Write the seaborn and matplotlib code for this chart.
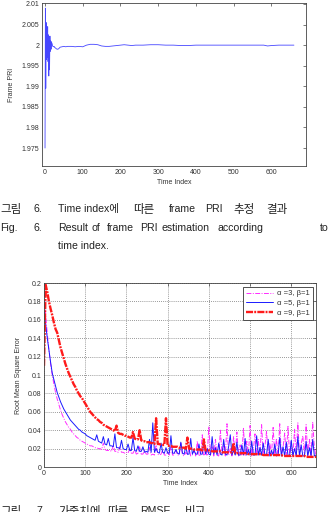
import numpy as np
import pandas as pd
import matplotlib
matplotlib.use("Agg")
import matplotlib.pyplot as plt
import seaborn as sns

sns.set_style("white")
plt.rcParams["font.family"] = ["Liberation Sans", "DejaVu Sans"]

# ---------------- data: chart 1 (frame PRI estimate) ----------------
pri_t = [0, 1, 2, 3, 4, 5, 6, 7, 8, 9, 10, 11, 12, 13, 14, 15, 16, 17, 18, 19, 20,
         22, 24, 26, 28, 30, 33, 36, 40, 45, 50, 55, 60, 70, 80, 90, 100, 110, 120,
         130, 140, 150, 160, 170, 180, 190, 200, 210, 220, 230, 240, 260, 280, 300,
         320, 340, 360, 380, 400, 420, 440, 460, 480, 500, 520, 540, 560, 580, 590,
         600, 620, 640, 660]
pri_val = [1.9750, 2.0090, 1.9895, 2.0055, 1.9965, 2.0030, 1.9970, 2.0045, 1.9960,
           2.0025, 1.9925, 2.0020, 1.9940, 2.0022, 1.9985, 2.0010, 1.9990, 2.0008,
           2.0005, 2.0003, 1.9998, 1.9996, 1.9997, 1.9994, 1.9993, 1.9991, 1.9990,
           1.9991, 1.9995, 1.9996, 1.9997, 1.9996, 1.9997, 1.9997, 1.9996, 1.9997,
           1.9996, 2.0000, 2.0002, 2.0002, 2.0001, 1.9998, 1.9997, 1.9997, 1.9998,
           1.9999, 2.0000, 2.0001, 2.0000, 1.9999, 2.0000, 2.0000, 2.0001, 2.0001,
           2.0000, 2.0000, 1.9999, 1.9999, 2.0000, 2.0000, 2.0000, 2.0000, 2.0000,
           2.0000, 2.0000, 2.0000, 2.0000, 2.0000, 1.9998, 1.9999, 2.0000, 2.0000,
           2.0000]
pri_yticks = [1.975, 1.98, 1.985, 1.99, 1.995, 2.0, 2.005, 2.01]
pri_yticklabels = ["1.975", "1.98", "1.985", "1.99", "1.995", "2", "2.005", "2.01"]
xticks = [0, 100, 200, 300, 400, 500, 600]

# ---------------- data: chart 2 (RMSE) ----------------
rmse_t = list(range(0, 661, 4))
rmse_a3 = [0.190, 0.165, 0.145, 0.127, 0.112, 0.100, 0.090, 0.081, 0.074, 0.068,
           0.062, 0.057, 0.053, 0.049, 0.046, 0.043, 0.041, 0.038, 0.036, 0.034,
           0.032, 0.031, 0.029, 0.028, 0.027, 0.026, 0.025, 0.024, 0.023, 0.023,
           0.022, 0.021, 0.021, 0.020, 0.020, 0.019, 0.026, 0.019, 0.018, 0.018,
           0.018, 0.017, 0.024, 0.017, 0.017, 0.016, 0.022, 0.016, 0.016, 0.015,
           0.016, 0.015, 0.020, 0.015, 0.015, 0.019, 0.014, 0.015, 0.022, 0.014,
           0.014, 0.018, 0.014, 0.014, 0.021, 0.013, 0.014, 0.013, 0.024, 0.014,
           0.013, 0.014, 0.019, 0.013, 0.013, 0.017, 0.013, 0.022, 0.013, 0.013,
           0.018, 0.013, 0.013, 0.026, 0.013, 0.012, 0.016, 0.013, 0.021, 0.012,
           0.013, 0.019, 0.012, 0.028, 0.013, 0.012, 0.035, 0.013, 0.018, 0.012,
           0.044, 0.013, 0.022, 0.012, 0.030, 0.013, 0.012, 0.040, 0.014, 0.025,
           0.012, 0.047, 0.013, 0.020, 0.012, 0.033, 0.013, 0.038, 0.012, 0.024,
           0.013, 0.042, 0.012, 0.028, 0.013, 0.045, 0.012, 0.019, 0.036, 0.012,
           0.030, 0.013, 0.046, 0.012, 0.022, 0.039, 0.012, 0.026, 0.013, 0.043,
           0.012, 0.031, 0.012, 0.047, 0.013, 0.021, 0.037, 0.012, 0.044, 0.013,
           0.028, 0.012, 0.041, 0.013, 0.048, 0.012, 0.025, 0.034, 0.012, 0.046,
           0.013, 0.030, 0.012, 0.049, 0.021, 0.012]
rmse_a5 = [0.170, 0.155, 0.140, 0.127, 0.114, 0.102, 0.095, 0.088, 0.081, 0.076,
           0.071, 0.067, 0.063, 0.060, 0.057, 0.054, 0.051, 0.049, 0.047, 0.045,
           0.043, 0.041, 0.040, 0.038, 0.037, 0.036, 0.034, 0.033, 0.032, 0.031,
           0.030, 0.029, 0.035, 0.028, 0.027, 0.026, 0.033, 0.025, 0.024, 0.031,
           0.023, 0.023, 0.022, 0.036, 0.021, 0.021, 0.020, 0.029, 0.020, 0.019,
           0.019, 0.025, 0.018, 0.018, 0.032, 0.018, 0.017, 0.023, 0.017, 0.017,
           0.022, 0.016, 0.017, 0.016, 0.030, 0.016, 0.048, 0.016, 0.020, 0.016,
           0.015, 0.026, 0.016, 0.015, 0.021, 0.015, 0.015, 0.034, 0.015, 0.015,
           0.019, 0.015, 0.014, 0.027, 0.015, 0.014, 0.022, 0.014, 0.014, 0.031,
           0.014, 0.018, 0.014, 0.014, 0.025, 0.014, 0.014, 0.029, 0.014, 0.020,
           0.014, 0.013, 0.033, 0.014, 0.021, 0.013, 0.026, 0.014, 0.013, 0.030,
           0.014, 0.013, 0.022, 0.035, 0.013, 0.018, 0.013, 0.027, 0.013, 0.013,
           0.024, 0.013, 0.031, 0.013, 0.019, 0.013, 0.028, 0.013, 0.013, 0.034,
           0.013, 0.021, 0.013, 0.026, 0.013, 0.013, 0.030, 0.012, 0.018, 0.013,
           0.025, 0.012, 0.013, 0.032, 0.012, 0.022, 0.012, 0.027, 0.013, 0.012,
           0.029, 0.012, 0.020, 0.012, 0.033, 0.012, 0.024, 0.012, 0.012, 0.028,
           0.012, 0.021, 0.012, 0.030, 0.012, 0.013]
rmse_a9 = [0.110, 0.198, 0.190, 0.180, 0.172, 0.165, 0.157, 0.150, 0.146, 0.138,
           0.130, 0.124, 0.118, 0.112, 0.107, 0.102, 0.098, 0.094, 0.090, 0.087,
           0.083, 0.080, 0.077, 0.075, 0.072, 0.069, 0.066, 0.063, 0.060, 0.058,
           0.056, 0.054, 0.052, 0.051, 0.049, 0.048, 0.046, 0.045, 0.044, 0.043,
           0.042, 0.041, 0.040, 0.039, 0.045, 0.037, 0.036, 0.036, 0.035, 0.034,
           0.034, 0.033, 0.032, 0.032, 0.038, 0.031, 0.030, 0.030, 0.040, 0.029,
           0.028, 0.028, 0.027, 0.027, 0.027, 0.026, 0.026, 0.025, 0.053, 0.025,
           0.025, 0.024, 0.024, 0.024, 0.053, 0.023, 0.023, 0.023, 0.022, 0.022,
           0.022, 0.022, 0.021, 0.021, 0.021, 0.021, 0.020, 0.032, 0.020, 0.020,
           0.020, 0.019, 0.019, 0.019, 0.019, 0.019, 0.018, 0.030, 0.018, 0.018,
           0.018, 0.018, 0.017, 0.017, 0.017, 0.017, 0.017, 0.017, 0.016, 0.016,
           0.016, 0.016, 0.016, 0.016, 0.016, 0.026, 0.015, 0.015, 0.015, 0.015,
           0.015, 0.015, 0.015, 0.015, 0.014, 0.014, 0.014, 0.014, 0.014, 0.014,
           0.014, 0.014, 0.014, 0.013, 0.013, 0.013, 0.013, 0.013, 0.013, 0.013,
           0.013, 0.013, 0.013, 0.013, 0.013, 0.012, 0.012, 0.012, 0.012, 0.012,
           0.012, 0.012, 0.012, 0.012, 0.012, 0.012, 0.012, 0.012, 0.012, 0.011,
           0.011, 0.011, 0.011, 0.011, 0.011, 0.011]
rmse_labels = ["\u03b1 =3, \u03b2=1", "\u03b1 =5, \u03b2=1", "\u03b1 =9, \u03b2=1"]
rmse_yticks = [0, 0.02, 0.04, 0.06, 0.08, 0.1, 0.12, 0.14, 0.16, 0.18, 0.2]
rmse_yticklabels = ["0", "0.02", "0.04", "0.06", "0.08", "0.1", "0.12", "0.14",
                    "0.16", "0.18", "0.2"]

# ---------------- figure ----------------
W, H = 332, 512
fig = plt.figure(figsize=(W / 100, H / 100), dpi=100)


def px_axes(l, t, r, b):
    return fig.add_axes([l / W, 1 - b / H, (r - l) / W, (b - t) / H])


def style_axes(ax):
    for s in ax.spines.values():
        s.set_color("#444444")
        s.set_linewidth(0.6)
    ax.tick_params(direction="in", top=True, right=True, length=2.5, width=0.5,
                   labelsize=5, colors="#444444", labelcolor="#333333", pad=2)


# chart 1
ax1 = px_axes(42, 3, 306, 166)
sns.lineplot(x=pri_t, y=pri_val, ax=ax1, color="#4646ff", linewidth=0.6,
             estimator=None, sort=False)
ax1.set_xlim(-8, 692)
ax1.set_ylim(1.97063, 2.01024)
ax1.set_xticks(xticks)
ax1.set_xticklabels([str(v) for v in xticks])
ax1.set_yticks(pri_yticks)
ax1.set_yticklabels(pri_yticklabels)
style_axes(ax1)
ax1.set_xlabel("Time Index", fontsize=5, color="#333333", labelpad=2)
ax1.set_ylabel("Frame PRI", fontsize=5, color="#333333", labelpad=5)

# chart 2
ax2 = px_axes(44, 283, 316, 467)
df = pd.DataFrame({"t": rmse_t, "a3": rmse_a3, "a5": rmse_a5, "a9": rmse_a9})
sns.lineplot(data=df, x="t", y="a3", ax=ax2, color="#ff2bff", linewidth=0.7,
             linestyle=(0, (5, 1.5, 1, 1.5)), label=rmse_labels[0], estimator=None)
sns.lineplot(data=df, x="t", y="a5", ax=ax2, color="#1a1aff", linewidth=0.7,
             linestyle="-", label=rmse_labels[1], estimator=None)
sns.lineplot(data=df, x="t", y="a9", ax=ax2, color="#ff1a1a", linewidth=1.7,
             linestyle=(0, (3, 0.5, 0.8, 0.5)), label=rmse_labels[2], estimator=None)
ax2.set_xlim(0, 660)
ax2.set_ylim(0, 0.2)
ax2.set_xticks(xticks)
ax2.set_xticklabels([str(v) for v in xticks])
ax2.set_yticks(rmse_yticks)
ax2.set_yticklabels(rmse_yticklabels)
ax2.grid(True, linestyle=(0, (1, 1.5)), color="#777777", linewidth=0.6)
style_axes(ax2)
ax2.set_xlabel("Time Index", fontsize=5, color="#333333", labelpad=2)
ax2.set_ylabel("Root Mean Square Error", fontsize=5, color="#333333", labelpad=4)
leg = ax2.legend(loc="upper right", bbox_to_anchor=((313 - 44) / 272, 1 - 4 / 184),
                 borderaxespad=0, fontsize=5.5, frameon=True, fancybox=False,
                 edgecolor="#333333", handlelength=3.6, handletextpad=0.5,
                 borderpad=0.4, labelspacing=0.3, framealpha=1)
leg.get_frame().set_linewidth(0.6)
for txt in leg.get_texts():
    txt.set_color("#333333")

# captions
lat_font = ["Liberation Sans", "Noto Sans CJK KR", "DejaVu Sans"]
kor_font = ["Noto Sans CJK KR", "DejaVu Sans"]


def cap(x, y, s, kor=False):
    fig.text(x / W, 1 - y / H, s, fontsize=8.3 if kor else 7.6,
             family=kor_font if kor else lat_font, color="#222222",
             va="center", ha="left")


cap(0, 209, "그림", kor=True)
cap(33, 209, "6.")
for x, w, k in [(58, "Time index에", False), (133, "따른", True), (169, "frame", False),
                (205, "PRI", False), (233, "추정", True), (266, "결과", True)]:
    cap(x, 209, w, kor=k)
cap(0, 228, "Fig.")
cap(33, 228, "6.")
for x, w in [(58, "Result"), (91, "of"), (107, "frame"), (140, "PRI"),
             (162, "estimation"), (217, "according"), (320, "to")]:
    cap(x, 228, w)
cap(58, 246, "time index.")
cap(0, 511, "그림", kor=True)
cap(36, 511, "7.")
for x, w, k in [(58, "가중치에", True), (107, "따른", True), (140, "RMSE", False),
                (185, "비교", True)]:
    cap(x, 511, w, kor=k)

fig.savefig("out.png", dpi=100)
